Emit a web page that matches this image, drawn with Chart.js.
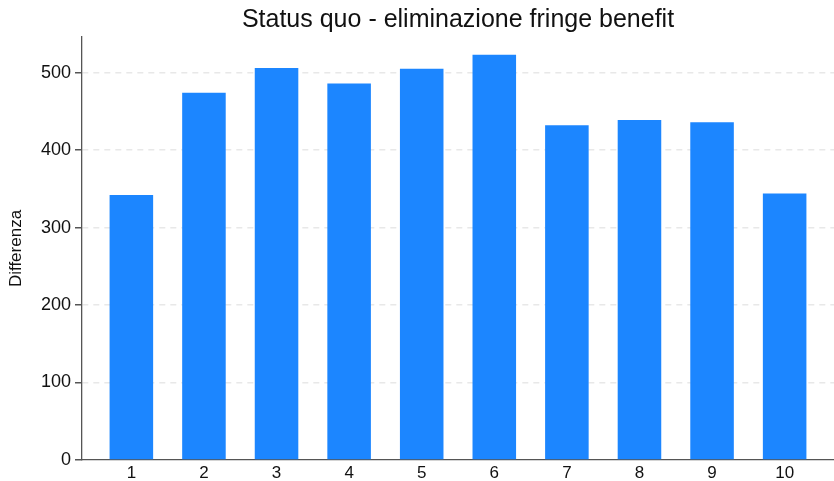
<!DOCTYPE html>
<html>
<head>
<meta charset="utf-8">
<script src="https://cdn.jsdelivr.net/npm/chart.js@4/dist/chart.umd.min.js"></script>
<style>
  html, body { margin: 0; padding: 0; background: #fff; }
  #wrap { width: 834px; height: 481px; position: relative; }
</style>
</head>
<body>
<div id="wrap"><canvas id="diffChart"></canvas></div>
<script>
// data
const titleText = "Status quo - eliminazione fringe benefit";
const yTitle = "Differenza";
const categories = [1, 2, 3, 4, 5, 6, 7, 8, 9, 10];
const differenza = [342, 474, 506, 486, 505, 523, 432, 439, 436, 344];
const yTickValues = [0, 100, 200, 300, 400, 500];

const FONT = '"Liberation Sans", Arial, sans-serif';

// title centred over the plot area (Stata style)
const plotTitle = {
  id: 'plotTitle',
  afterDraw(chart) {
    const { ctx, chartArea } = chart;
    ctx.save();
    ctx.font = '25px ' + FONT;
    ctx.fillStyle = '#111';
    ctx.textAlign = 'center';
    ctx.textBaseline = 'middle';
    ctx.fillText(titleText, (chartArea.left + chartArea.right) / 2, 20);
    ctx.restore();
  }
};

const ctx = document.getElementById('diffChart').getContext('2d');
new Chart(ctx, {
  type: 'bar',
  data: {
    datasets: [{
      label: yTitle,
      data: categories.map((c, i) => ({ x: c, y: differenza[i] })),
      backgroundColor: '#1c86ff',
      borderWidth: 0,
      barPercentage: 0.6,
      categoryPercentage: 1
    }]
  },
  options: {
    animation: false,
    responsive: true,
    maintainAspectRatio: false,
    layout: { padding: { top: 37, right: 0, left: 0, bottom: 0 } },
    plugins: {
      legend: { display: false },
      tooltip: { enabled: false }
    },
    scales: {
      x: {
        type: 'linear',
        offset: false,
        min: 0.32,
        max: 10.68,
        afterBuildTicks: scale => { scale.ticks = categories.map(v => ({ value: v })); },
        afterFit: scale => { scale.height = 21; },
        grid: { display: false, drawTicks: false },
        border: { color: '#555', width: 1.3 },
        ticks: {
          autoSkip: false,
          maxRotation: 0,
          padding: 3,
          color: '#111',
          font: { family: FONT, size: 17 }
        }
      },
      y: {
        min: 0,
        max: 546,
        afterBuildTicks: scale => { scale.ticks = yTickValues.map(v => ({ value: v })); },
        afterFit: scale => { scale.width = 82; },
        grid: {
          color: ctx => ctx.tick && ctx.tick.value === 0 ? 'rgba(0,0,0,0)' : '#e8e8e8',
          lineWidth: 1.5,
          tickColor: '#555',
          tickLength: 7,
          tickBorderDash: []
        },
        border: { color: '#555', width: 1.3, dash: [6, 5] },
        ticks: {
          padding: 4,
          color: '#111',
          font: { family: FONT, size: 18 }
        },
        title: {
          display: true,
          text: yTitle,
          color: '#111',
          padding: { top: 6, bottom: 0 },
          font: { family: FONT, size: 17 }
        }
      }
    }
  },
  plugins: [plotTitle]
});
</script>
</body>
</html>
